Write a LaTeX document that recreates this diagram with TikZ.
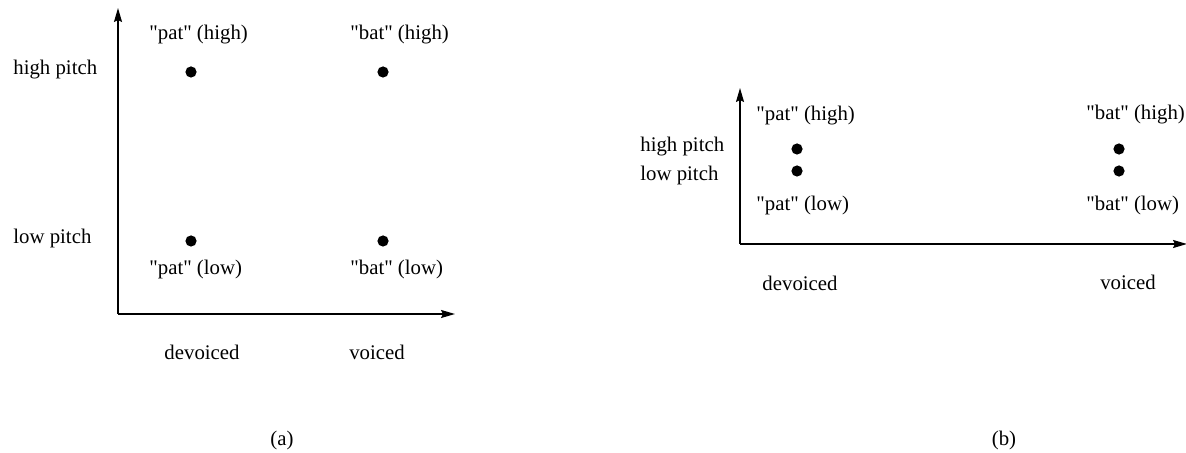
\documentclass[tikz,border=0pt]{standalone}
\usepackage{fontspec}
\setmainfont{Liberation Serif}[Ligatures=TeXOff]
\usetikzlibrary{arrows.meta}
\begin{document}
\begin{tikzpicture}[x=0.5pt,y=-0.5pt,
  every node/.style={font=\fontsize{10.4}{12}\selectfont, inner sep=0pt, text height=0.7em, text depth=0.2em},
  axis/.style={line width=0.8pt, -{Stealth[length=7pt,width=4pt,inset=1pt]}},
  dot/.style={circle, fill=black, minimum size=5.6pt, inner sep=0pt, text height=, text depth=},
  lbl/.style={anchor=west},
  caplbl/.style={anchor=center}]
\useasboundingbox (0,0) rectangle (1186,453);
% panel (a)
\coordinate (oa) at (118,314);
\coordinate (ya) at (118,8);
\coordinate (xa) at (455,314);
\draw[axis] (oa) -- (ya);
\draw[axis] (oa) -- (xa);
\node[dot] (a1) at (191,72) {};
\node[dot] (a2) at (383,72) {};
\node[dot] (a3) at (191,241) {};
\node[dot] (a4) at (383,241) {};
\node[lbl] (ta1) at (149,35) {"pat" (high)};
\node[lbl] (ta2) at (350,35) {"bat" (high)};
\node[lbl] (ta3) at (149,270) {"pat" (low)};
\node[lbl] (ta4) at (350,270) {"bat" (low)};
\node[lbl] (ha) at (13,70) {high pitch};
\node[lbl] (la) at (13,239) {low pitch};
\node[caplbl] (da) at (202,355) {devoiced};
\node[caplbl] (va) at (377,355) {voiced};
\node[caplbl] (ca) at (282,440) {(a)};
% panel (b)
\coordinate (ob) at (740,244);
\coordinate (yb) at (740,88);
\coordinate (xb) at (1187,244);
\draw[axis] (ob) -- (yb);
\draw[axis] (ob) -- (xb);
\node[dot] (b1) at (797,149) {};
\node[dot] (b2) at (797,171) {};
\node[dot] (b3) at (1119,149) {};
\node[dot] (b4) at (1119,171) {};
\node[lbl] (tb1) at (756,116) {"pat" (high)};
\node[lbl] (tb2) at (1086,115) {"bat" (high)};
\node[lbl] (tb3) at (756,206) {"pat" (low)};
\node[lbl] (tb4) at (1086,206) {"bat" (low)};
\node[lbl] (hb) at (640,147) {high pitch};
\node[lbl] (lb) at (640,176) {low pitch};
\node[caplbl] (db) at (800,286) {devoiced};
\node[caplbl] (vb) at (1128,285) {voiced};
\node[caplbl] (cb) at (1004,440) {(b)};
\end{tikzpicture}
\end{document}
